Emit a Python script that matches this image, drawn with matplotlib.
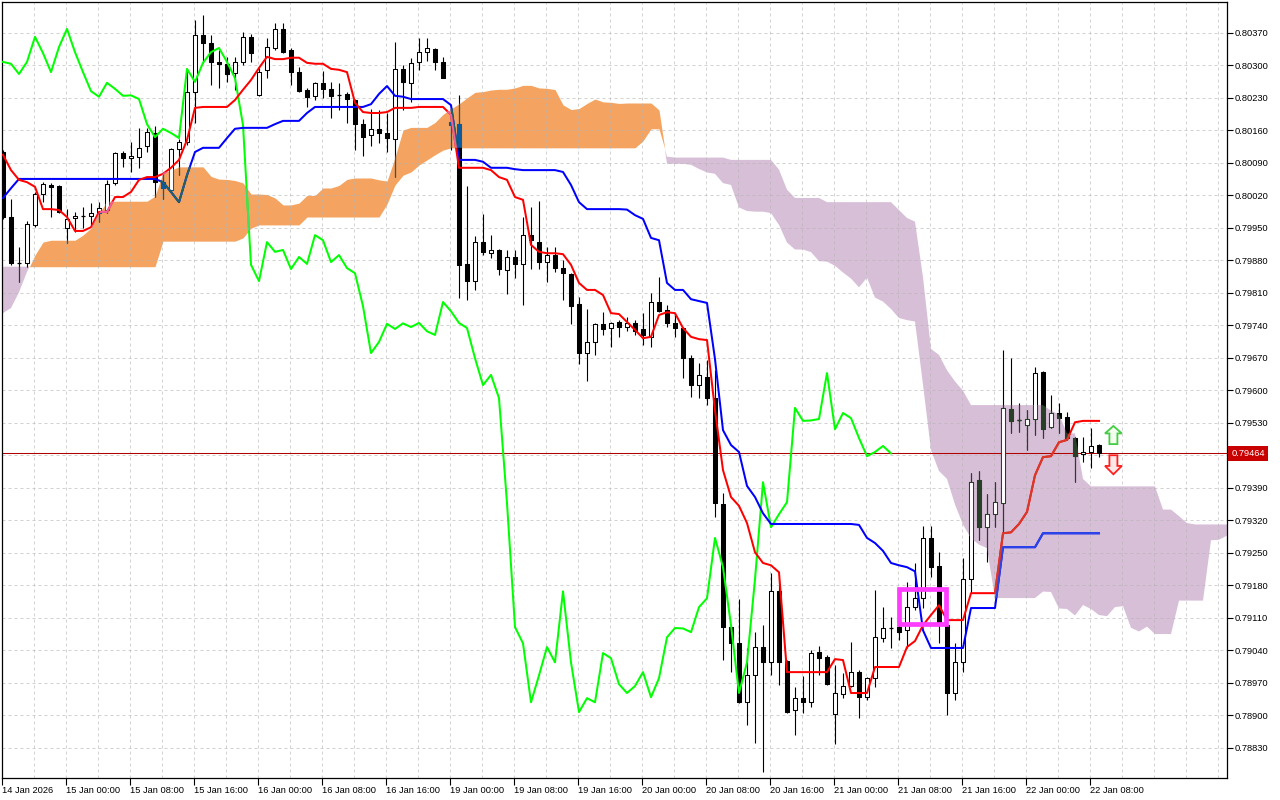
import numpy as np
import matplotlib
matplotlib.use("Agg")
import matplotlib.pyplot as plt
from matplotlib import font_manager as fm
from matplotlib.patches import Polygon, Rectangle
from matplotlib.path import Path
from matplotlib.collections import PatchCollection

# ---------------- data (H1 bars, 14 Jan 16:00 .. 22 Jan 09:00) ----------------
opens = [0.80113, 0.79973, 0.79874, 0.79874, 0.79956, 0.80023, 0.80042, 0.80040, 0.79949, 0.79971,
         0.79975, 0.79975, 0.79982, 0.79988, 0.80046, 0.80111, 0.80100, 0.80102, 0.80126, 0.80154,
         0.80048, 0.80031, 0.80120, 0.80135, 0.80242, 0.80365, 0.80348, 0.80307, 0.80303, 0.80283,
         0.80307, 0.80361, 0.80236, 0.80290, 0.80337, 0.80378, 0.80333, 0.80285, 0.80247, 0.80234,
         0.80262, 0.80249, 0.80236, 0.80238, 0.80225, 0.80173, 0.80150, 0.80163, 0.80154, 0.80141,
         0.80292, 0.80262, 0.80307, 0.80328, 0.80335, 0.80307, 0.80178, 0.80173, 0.79872, 0.79835,
         0.79919, 0.79895, 0.79902, 0.79859, 0.79887, 0.79872, 0.79934, 0.79919, 0.79876, 0.79891,
         0.79863, 0.79850, 0.79786, 0.79680, 0.79704, 0.79743, 0.79734, 0.79747, 0.79736, 0.79745,
         0.79732, 0.79715, 0.79790, 0.79773, 0.79745, 0.79734, 0.79669, 0.79611, 0.79628, 0.79583,
         0.79355, 0.79090, 0.79055, 0.78928, 0.78986, 0.79047, 0.79014, 0.79167, 0.79017, 0.78911,
         0.78937, 0.78928, 0.79036, 0.79025, 0.78902, 0.78946, 0.78963, 0.78993, 0.78939, 0.78980,
         0.79066, 0.79088, 0.79090, 0.79083, 0.79133, 0.79152, 0.79282, 0.79221, 0.79094, 0.78948,
         0.79014, 0.79193, 0.79407, 0.79305, 0.79333, 0.79357, 0.79559, 0.79536, 0.79525, 0.79538,
         0.79639, 0.79521, 0.79551, 0.79542, 0.79497, 0.79463, 0.79467, 0.79482]
highs = [0.80117, 0.80012, 0.79908, 0.79964, 0.80027, 0.80048, 0.80046, 0.80042, 0.79990, 0.79984,
         0.79995, 0.80003, 0.80005, 0.80053, 0.80113, 0.80115, 0.80135, 0.80165, 0.80165, 0.80169,
         0.80068, 0.80122, 0.80141, 0.80290, 0.80397, 0.80408, 0.80365, 0.80333, 0.80318, 0.80318,
         0.80372, 0.80367, 0.80294, 0.80359, 0.80391, 0.80391, 0.80337, 0.80296, 0.80251, 0.80264,
         0.80288, 0.80264, 0.80262, 0.80242, 0.80227, 0.80184, 0.80206, 0.80204, 0.80197, 0.80350,
         0.80300, 0.80316, 0.80359, 0.80359, 0.80337, 0.80318, 0.80197, 0.80236, 0.80040, 0.79932,
         0.79979, 0.79934, 0.79904, 0.79902, 0.79902, 0.79973, 0.79995, 0.80007, 0.79908, 0.79908,
         0.79880, 0.79852, 0.79801, 0.79775, 0.79745, 0.79768, 0.79747, 0.79751, 0.79758, 0.79751,
         0.79766, 0.79809, 0.79844, 0.79783, 0.79762, 0.79736, 0.79676, 0.79659, 0.79665, 0.79643,
         0.79379, 0.79094, 0.79150, 0.79045, 0.79079, 0.79094, 0.79206, 0.79195, 0.79019, 0.78961,
         0.78984, 0.79040, 0.79049, 0.79030, 0.79008, 0.78991, 0.79058, 0.78997, 0.78982, 0.79170,
         0.79133, 0.79111, 0.79170, 0.79187, 0.79228, 0.79307, 0.79307, 0.79251, 0.79105, 0.79055,
         0.79239, 0.79422, 0.79426, 0.79376, 0.79402, 0.79687, 0.79669, 0.79572, 0.79557, 0.79650,
         0.79641, 0.79590, 0.79572, 0.79553, 0.79499, 0.79499, 0.79519, 0.79484]
lows = [0.79969, 0.79870, 0.79833, 0.79865, 0.79951, 0.80005, 0.79973, 0.79982, 0.79917, 0.79941,
        0.79949, 0.79951, 0.79962, 0.79982, 0.80042, 0.80081, 0.80070, 0.80079, 0.80113, 0.80016,
        0.80012, 0.80027, 0.80063, 0.80128, 0.80176, 0.80305, 0.80257, 0.80251, 0.80264, 0.80247,
        0.80300, 0.80307, 0.80234, 0.80272, 0.80333, 0.80326, 0.80257, 0.80242, 0.80210, 0.80225,
        0.80229, 0.80186, 0.80204, 0.80176, 0.80117, 0.80104, 0.80126, 0.80132, 0.80113, 0.80059,
        0.80204, 0.80221, 0.80290, 0.80309, 0.80290, 0.80272, 0.80117, 0.79799, 0.79794, 0.79816,
        0.79891, 0.79885, 0.79848, 0.79807, 0.79842, 0.79783, 0.79861, 0.79861, 0.79833, 0.79855,
        0.79794, 0.79743, 0.79656, 0.79620, 0.79676, 0.79719, 0.79693, 0.79715, 0.79727, 0.79719,
        0.79697, 0.79693, 0.79768, 0.79736, 0.79715, 0.79626, 0.79585, 0.79583, 0.79568, 0.79327,
        0.79019, 0.78993, 0.78926, 0.78879, 0.78840, 0.78778, 0.78986, 0.78965, 0.78905, 0.78857,
        0.78905, 0.78918, 0.78986, 0.78965, 0.78838, 0.78937, 0.78961, 0.78894, 0.78933, 0.78961,
        0.79058, 0.79045, 0.79062, 0.79045, 0.79127, 0.79131, 0.79198, 0.79055, 0.78900, 0.78933,
        0.78993, 0.79163, 0.79277, 0.79230, 0.79305, 0.79292, 0.79508, 0.79510, 0.79471, 0.79503,
        0.79497, 0.79519, 0.79508, 0.79493, 0.79402, 0.79445, 0.79432, 0.79456]
closes = [0.79973, 0.79874, 0.79873, 0.79958, 0.80023, 0.80044, 0.80038, 0.79984, 0.79969, 0.79975,
          0.79976, 0.79982, 0.79992, 0.80044, 0.80111, 0.80100, 0.80104, 0.80122, 0.80156, 0.80048,
          0.80035, 0.80120, 0.80135, 0.80242, 0.80365, 0.80348, 0.80307, 0.80303, 0.80281, 0.80307,
          0.80361, 0.80326, 0.80285, 0.80339, 0.80378, 0.80328, 0.80285, 0.80244, 0.80232, 0.80262,
          0.80249, 0.80234, 0.80235, 0.80227, 0.80173, 0.80145, 0.80163, 0.80154, 0.80143, 0.80292,
          0.80264, 0.80305, 0.80328, 0.80337, 0.80307, 0.80272, 0.80171, 0.79870, 0.79835, 0.79919,
          0.79898, 0.79902, 0.79861, 0.79887, 0.79872, 0.79934, 0.79923, 0.79876, 0.79891, 0.79863,
          0.79852, 0.79781, 0.79680, 0.79704, 0.79743, 0.79732, 0.79744, 0.79736, 0.79745, 0.79727,
          0.79719, 0.79790, 0.79770, 0.79745, 0.79734, 0.79669, 0.79611, 0.79633, 0.79583, 0.79357,
          0.79090, 0.79055, 0.78928, 0.78986, 0.79047, 0.79014, 0.79167, 0.79014, 0.78907, 0.78937,
          0.78928, 0.79034, 0.79023, 0.78967, 0.78948, 0.78963, 0.78993, 0.78939, 0.78980, 0.79068,
          0.79088, 0.79087, 0.79079, 0.79133, 0.79152, 0.79282, 0.79219, 0.79094, 0.78948, 0.79014,
          0.79193, 0.79402, 0.79305, 0.79333, 0.79359, 0.79562, 0.79534, 0.79535, 0.79538, 0.79637,
          0.79516, 0.79551, 0.79540, 0.79497, 0.79458, 0.79467, 0.79480, 0.79464]

tenkan = [0.80107, 0.80074, 0.80053, 0.80048, 0.80038, 0.79990, 0.79990, 0.79988, 0.79973, 0.79943,
          0.79943, 0.79951, 0.79984, 0.79984, 0.80016, 0.80016, 0.80027, 0.80053, 0.80059, 0.80059,
          0.80066, 0.80079, 0.80096, 0.80139, 0.80208, 0.80210, 0.80210, 0.80210, 0.80210, 0.80225,
          0.80247, 0.80268, 0.80294, 0.80318, 0.80313, 0.80313, 0.80316, 0.80316, 0.80305, 0.80303,
          0.80303, 0.80292, 0.80290, 0.80285, 0.80219, 0.80199, 0.80197, 0.80197, 0.80199, 0.80208,
          0.80208, 0.80208, 0.80210, 0.80210, 0.80210, 0.80210, 0.80193, 0.80079, 0.80079, 0.80079,
          0.80079, 0.80074, 0.80059, 0.80053, 0.80016, 0.80010, 0.79913, 0.79898, 0.79895, 0.79895,
          0.79893, 0.79870, 0.79831, 0.79816, 0.79816, 0.79805, 0.79766, 0.79764, 0.79747, 0.79730,
          0.79712, 0.79715, 0.79762, 0.79768, 0.79766, 0.79734, 0.79715, 0.79710, 0.79708, 0.79557,
          0.79428, 0.79370, 0.79351, 0.79314, 0.79251, 0.79228, 0.79223, 0.79208, 0.78993, 0.78993,
          0.78993, 0.78993, 0.78993, 0.78993, 0.79021, 0.79019, 0.78948, 0.78948, 0.78948, 0.79004,
          0.79004, 0.79004, 0.79004, 0.79047, 0.79060, 0.79094, 0.79116, 0.79137, 0.79105, 0.79105,
          0.79105, 0.79163, 0.79163, 0.79163, 0.79163, 0.79292, 0.79294, 0.79312, 0.79338, 0.79417,
          0.79456, 0.79458, 0.79488, 0.79493, 0.79531, 0.79534, 0.79534, 0.79534]
kijun = [0.80014, 0.80035, 0.80055, 0.80055, 0.80055, 0.80055, 0.80055, 0.80055, 0.80055, 0.80055,
         0.80055, 0.80055, 0.80055, 0.80055, 0.80055, 0.80055, 0.80055, 0.80055, 0.80055, 0.80055,
         0.80048, 0.80027, 0.80005, 0.80063, 0.80113, 0.80122, 0.80122, 0.80122, 0.80143, 0.80163,
         0.80165, 0.80165, 0.80165, 0.80165, 0.80173, 0.80180, 0.80180, 0.80180, 0.80197, 0.80210,
         0.80210, 0.80210, 0.80210, 0.80210, 0.80210, 0.80210, 0.80216, 0.80238, 0.80255, 0.80234,
         0.80232, 0.80227, 0.80227, 0.80227, 0.80227, 0.80227, 0.80214, 0.80096, 0.80096, 0.80096,
         0.80092, 0.80079, 0.80079, 0.80079, 0.80076, 0.80074, 0.80074, 0.80074, 0.80074, 0.80074,
         0.80070, 0.80042, 0.80005, 0.79990, 0.79990, 0.79990, 0.79990, 0.79990, 0.79989, 0.79977,
         0.79969, 0.79928, 0.79923, 0.79831, 0.79816, 0.79816, 0.79796, 0.79792, 0.79788, 0.79667,
         0.79514, 0.79482, 0.79467, 0.79394, 0.79370, 0.79335, 0.79312, 0.79312, 0.79312, 0.79312,
         0.79312, 0.79312, 0.79312, 0.79312, 0.79312, 0.79312, 0.79312, 0.79310, 0.79282, 0.79271,
         0.79254, 0.79228, 0.79223, 0.79219, 0.79210, 0.79083, 0.79045, 0.79045, 0.79045, 0.79045,
         0.79045, 0.79131, 0.79131, 0.79131, 0.79131, 0.79262, 0.79262, 0.79262, 0.79262, 0.79262,
         0.79292, 0.79292, 0.79292, 0.79292, 0.79292, 0.79292, 0.79292, 0.79292]
# Senkou A on the first 26 visible bars (comes from bars before the window)
span_a_head = [0.79766, 0.79777, 0.79811, 0.79855, 0.79891, 0.79919, 0.79923, 0.79923, 0.79923, 0.79923,
               0.79934, 0.79949, 0.79982, 0.80005, 0.80007, 0.80007, 0.80007, 0.80007, 0.80007, 0.80018,
               0.80068, 0.80074, 0.80081, 0.80081, 0.80081, 0.80081]
span_b = [0.79866, 0.79866, 0.79866, 0.79866, 0.79866, 0.79866, 0.79866, 0.79866, 0.79866, 0.79866,
          0.79866, 0.79866, 0.79866, 0.79866, 0.79866, 0.79866, 0.79866, 0.79866, 0.79866, 0.79866,
          0.79921, 0.79921, 0.79921, 0.79921, 0.79921, 0.79921, 0.79921, 0.79921, 0.79921, 0.79921,
          0.79928, 0.79949, 0.79956, 0.79956, 0.79956, 0.79956, 0.79956, 0.79956, 0.79973, 0.79973,
          0.79973, 0.79973, 0.79973, 0.79973, 0.79973, 0.79973, 0.79973, 0.79973, 0.80001, 0.80042,
          0.80063, 0.80070, 0.80085, 0.80096, 0.80107, 0.80117, 0.80122, 0.80122, 0.80122, 0.80122,
          0.80122, 0.80122, 0.80122, 0.80122, 0.80122, 0.80122, 0.80122, 0.80122, 0.80122, 0.80122,
          0.80122, 0.80122, 0.80122, 0.80122, 0.80122, 0.80122, 0.80122, 0.80122, 0.80122, 0.80122,
          0.80137, 0.80163, 0.80163, 0.80103, 0.80101, 0.80101, 0.80101, 0.80101, 0.80101, 0.80101,
          0.80101, 0.80096, 0.80096, 0.80096, 0.80096, 0.80096, 0.80096, 0.80075, 0.80032, 0.80014,
          0.80014, 0.80014, 0.80014, 0.80005, 0.80005, 0.80005, 0.80005, 0.80005, 0.80005, 0.80005,
          0.80005, 0.80005, 0.79988, 0.79971, 0.79963, 0.79843, 0.79689, 0.79676, 0.79643, 0.79619,
          0.79599, 0.79568, 0.79568, 0.79568, 0.79568, 0.79568, 0.79568, 0.79568, 0.79568, 0.79568,
          0.79568, 0.79556, 0.79548, 0.79507, 0.79507, 0.79409, 0.79393, 0.79393, 0.79393, 0.79393,
          0.79393, 0.79393, 0.79393, 0.79393, 0.79393, 0.79343, 0.79343, 0.79329, 0.79314, 0.79311,
          0.79311, 0.79311, 0.79311, 0.79311, 0.79311]

shift = 26
time_labels = ["14 Jan 2026", "15 Jan 00:00", "15 Jan 08:00", "15 Jan 16:00", "16 Jan 00:00",
               "16 Jan 08:00", "16 Jan 16:00", "19 Jan 00:00", "19 Jan 08:00", "19 Jan 16:00",
               "20 Jan 00:00", "20 Jan 08:00", "20 Jan 16:00", "21 Jan 00:00", "21 Jan 08:00",
               "21 Jan 16:00", "22 Jan 00:00", "22 Jan 08:00"]
label_step = 8
price_ticks = [0.80370, 0.80300, 0.80230, 0.80160, 0.80090, 0.80020, 0.79950, 0.79880, 0.79810,
               0.79740, 0.79670, 0.79600, 0.79530, 0.79460, 0.79390, 0.79320, 0.79250, 0.79180,
               0.79110, 0.79040, 0.78970, 0.78900, 0.78830]
current_price = 0.79464
box_bars = (112.0, 117.9)
box_prices = (0.79097, 0.79173)
signal_bar = 138.8
up_signal_tip = 0.79523
down_signal_tip = 0.79419

# ---------------- fonts ----------------
names = {f.name for f in fm.fontManager.ttflist}
if "Liberation Sans Narrow" in names:
    FONT, FS = "Liberation Sans Narrow", 7.9
else:
    FONT, FS = "Liberation Sans", 6.7
plt.rcParams["font.family"] = [FONT, "DejaVu Sans"]

o = np.array(opens); h = np.array(highs); l = np.array(lows); c = np.array(closes)
tk = np.array(tenkan); kj = np.array(kijun)
n = len(c)
x = np.arange(n)

# Ichimoku: Senkou A = (Tenkan + Kijun)/2 displaced 26 bars ahead; Chikou = close displaced 26 back
span_a = np.concatenate([np.array(span_a_head), (tk + kj) / 2.0])[:len(span_b)]
sb = np.array(span_b)
xc = np.arange(len(sb))
chikou = c[shift:]
xch = np.arange(n - shift)

fig = plt.figure(figsize=(12.8, 8), dpi=100)
ax = fig.add_axes([2 / 1280, 22 / 800, 1225 / 1280, 776 / 800])
ax.set_facecolor("white")
ax.set_xlim(-0.125, 153.0)
ax.set_ylim(0.78765, 0.80436)

# cloud
pc_up = ax.fill_between(xc, span_a, sb, where=span_a >= sb, interpolate=True,
                        color="#F4A460", lw=0, zorder=1)
pc_dn = ax.fill_between(xc, span_a, sb, where=span_a < sb, interpolate=True,
                        color="#D8BFD8", lw=0, zorder=1)

# grid
for gx in np.arange(4, 154, 4):
    ax.axvline(gx - 0.125, color="#B4B4B4", lw=0.72, ls=(0, (3, 3)), alpha=0.6, zorder=1.5)
for gy in price_ticks:
    ax.axhline(gy, color="#B4B4B4", lw=0.72, ls=(0, (3, 3)), alpha=0.6, zorder=1.5)

# current price line
ax.axhline(current_price, color="#B00000", lw=0.75, zorder=2.5)

bw = 0.56


def draw_candles(ink, z, clip=None):
    wk = ax.vlines(x, l, h, color=ink, lw=0.8, zorder=z)
    patches, faces = [], []
    dojis = []
    for i in range(n):
        lo, hi = min(o[i], c[i]), max(o[i], c[i])
        if hi - lo < 0.000025:
            dojis.append(i)
            continue
        patches.append(Rectangle((i - bw / 2, lo), bw, hi - lo))
        faces.append("white" if c[i] >= o[i] else ink)
    col = PatchCollection(patches, facecolors=faces, edgecolors=ink, linewidths=0.75,
                          zorder=z + 0.5)
    ax.add_collection(col)
    dj = ax.hlines([(o[i] + c[i]) / 2 for i in dojis], [i - bw / 2 for i in dojis],
                   [i + bw / 2 for i in dojis], color=ink, lw=0.9, zorder=z + 0.5)
    if clip is not None:
        for a in (wk, col, dj):
            a.set_clip_path(clip, ax.transData)


def draw_lines(ck_col, kj_col, tk_col, z, clip=None):
    arts = []
    arts += ax.plot(xch, chikou, color=ck_col, lw=1.45, zorder=z)
    arts += ax.plot(x, kj, color=kj_col, lw=1.45, zorder=z)
    arts += ax.plot(x, tk, color=tk_col, lw=1.45, zorder=z)
    if clip is not None:
        for a in arts:
            a.set_clip_path(clip, ax.transData)


draw_candles("black", 3)
draw_lines("#00FF00", "#0000FF", "#FF0000", 5)

# inside the cloud the chart paints strokes in inverted tones
for pc, ink, ck, kb, tr in ((pc_up, "#0B5B9F", "#40E060", "#1E6464", "#F0609A"),
                            (pc_dn, "#274027", "#30D830", "#2A46E6", "#D83A2A")):
    paths = pc.get_paths()
    if not paths:
        continue
    clip = Path.make_compound_path(*paths)
    draw_candles(ink, 3.2, clip)
    draw_lines(ck, kb, tr, 5.2, clip)

# magenta highlight box
ax.add_patch(Rectangle((box_bars[0], box_prices[0]), box_bars[1] - box_bars[0],
                       box_prices[1] - box_prices[0], fill=False, edgecolor="#FF3CFF",
                       lw=3.4, zorder=6))

# signal arrows
hw, sw = 1.05, 0.5          # half widths (bars) of head and shaft
head, shaft = 0.00016, 0.00023
ux, ut = signal_bar, up_signal_tip
up = [(ux, ut), (ux - hw, ut - head), (ux - sw, ut - head), (ux - sw, ut - head - shaft),
      (ux + sw, ut - head - shaft), (ux + sw, ut - head), (ux + hw, ut - head)]
dt = down_signal_tip
down = [(ux, dt), (ux - hw, dt + head + 0.00002), (ux - sw, dt + head + 0.00002),
        (ux - sw, dt + head + shaft + 0.00002), (ux + sw, dt + head + shaft + 0.00002),
        (ux + sw, dt + head + 0.00002), (ux + hw, dt + head + 0.00002)]
ax.add_patch(Polygon(up, closed=True, facecolor="#F4FFF0", edgecolor="#44CC44", lw=1.3, zorder=6))
ax.add_patch(Polygon(down, closed=True, facecolor="#FFE8E8", edgecolor="#FF2020", lw=1.3, zorder=6))

# axes styling
for s in ax.spines.values():
    s.set_color("black"); s.set_linewidth(0.9)
ax.yaxis.tick_right()
ax.set_yticks(price_ticks)
ax.set_yticklabels(["" if abs(p - 0.79460) < 1e-9 else f"{p:.5f}" for p in price_ticks])
ax.tick_params(axis="y", direction="out", length=4, width=0.8, pad=1.5, labelsize=FS,
               colors="black")
xt = [k * label_step - 0.125 for k in range(len(time_labels))]
ax.set_xticks(xt)
ax.set_xticklabels(time_labels)
for t in ax.get_xticklabels():
    t.set_horizontalalignment("left")
ax.tick_params(axis="x", direction="out", length=5, width=0.8, pad=1.0, labelsize=FS,
               colors="black")
ax.text(1.0035, current_price, f"{current_price:.5f}", transform=ax.get_yaxis_transform(),
        ha="left", va="center", color="white", fontsize=FS, zorder=10,
        bbox=dict(boxstyle="square,pad=0.32", facecolor="#C80000", edgecolor="none"),
        clip_on=False)

fig.savefig("out.png", dpi=100, facecolor="white")
